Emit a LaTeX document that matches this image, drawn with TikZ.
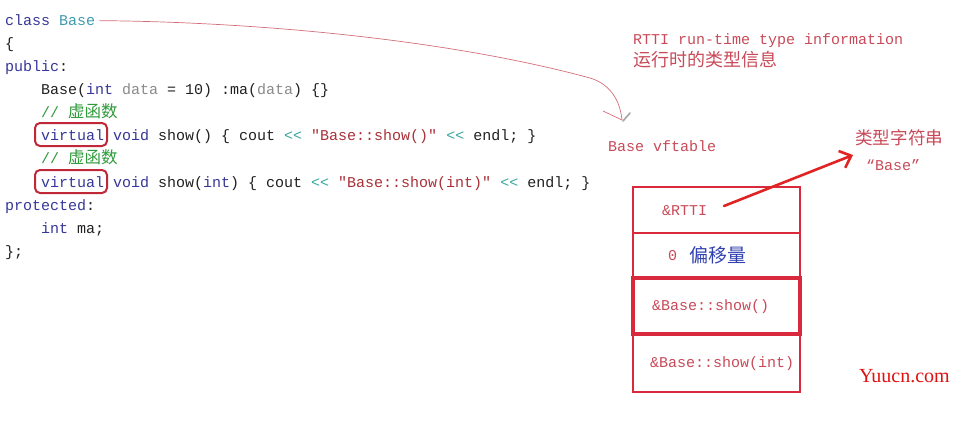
\documentclass[tikz,border=0pt]{standalone}
\usepackage{fontspec}
\setmainfont{Liberation Serif}
\setmonofont{Liberation Mono}
\newfontfamily\cjk{Noto Sans CJK SC}
\usetikzlibrary{arrows.meta}
\definecolor{kw}{HTML}{36369A}
\definecolor{cls}{HTML}{3E9AAE}
\definecolor{prm}{HTML}{8A8A8A}
\definecolor{cmt}{HTML}{2E9A3A}
\definecolor{str}{HTML}{A83038}
\definecolor{op}{HTML}{3AA6A0}
\definecolor{codetext}{HTML}{202020}
\definecolor{annot}{HTML}{C84A58}
\definecolor{boxred}{HTML}{C02838}
\definecolor{tabred}{HTML}{D82A3C}
\definecolor{arrred}{HTML}{E02424}
\definecolor{zhblue}{HTML}{3040B0}
\definecolor{wm}{HTML}{E01010}
\newcommand{\cz}[1]{{\cjk\fontsize{16.5}{16.5}\selectfont #1}}
\begin{document}
\begin{tikzpicture}[x=1pt,y=-1pt,
  code/.style={anchor=base west, inner sep=0pt, font=\ttfamily\fontsize{15}{15}\selectfont, text=codetext},
  note/.style={anchor=base west, inner sep=0pt, font=\ttfamily\fontsize{15}{15}\selectfont, text=annot},
  vbox/.style={draw=boxred, line width=2pt, rounded corners=5pt, minimum width=72pt, minimum height=23pt, inner sep=0pt},
  row/.style={draw=tabred, line width=2.6pt, minimum width=167pt, inner sep=0pt},
  thinlink/.style={draw=annot!80, line width=0.7pt}]
\useasboundingbox (0,0) rectangle (970,431);

% code
\node[code] (l1) at (5,25) {{\color{kw}class} {\color{cls}Base}};
\node[code] (l2) at (5,48) {\{};
\node[code] (l3) at (5,71) {{\color{kw}public}:};
\node[code] (l4) at (41,94) {Base({\color{kw}int} {\color{prm}data} = 10) :ma({\color{prm}data}) \{\}};
\node[code] (l5) at (41,117) {{\color{cmt}// \cz{虚函数}}};
\node[code] (l6) at (41,140) {{\color{kw}virtual} {\color{kw}void} show() \{ cout {\color{op}<{}<} {\color{str}"Base::show()"} {\color{op}<{}<} endl; \}};
\node[code] (l7) at (41,163) {{\color{cmt}// \cz{虚函数}}};
\node[code] (l8) at (41,187) {{\color{kw}virtual} {\color{kw}void} show({\color{kw}int}) \{ cout {\color{op}<{}<} {\color{str}"Base::show(int)"} {\color{op}<{}<} endl; \}};
\node[code] (l9) at (5,210) {{\color{kw}protected}:};
\node[code] (l10) at (41,233) {{\color{kw}int} ma;};
\node[code] (l11) at (5,256) {\};};

% boxes around virtual
\node[vbox] (v1) at (71,134.5) {};
\node[vbox] (v2) at (71,181.5) {};

% annotations
\node[note] (rtti) at (633,44) {RTTI run-time type information};
\node[note, font=\cjk\fontsize{18}{18}\selectfont] (rttizh) at (633,66) {运行时的类型信息};
\node[note] (vft) at (608,151) {Base vftable};
\node[note, font=\cjk\fontsize{17.6}{17.6}\selectfont] (lx) at (855,144) {类型字符串};
\node[note] (lxb) at (866,170) {“Base”};

% link from class Base to vftable
\coordinate (vfend) at (622,120);
\draw[thinlink] (l1.east) ++(4,1) .. controls (260,22) and (450,40) .. (590,78)
   .. controls (610,84) and (620,100) .. (vfend);
\draw[thinlink] (vfend) -- ++(-19,-9);
\draw[gray!70, line width=1.6pt, line cap=round] (623,121) -- (630,113);

% vftable
\node[row, minimum height=46pt] (r1) at (716.5,210) {};
\node[row, minimum height=45pt] (r2) at (716.5,255.5) {};
\node[row, minimum height=56pt, line width=3.2pt] (r3) at (716.5,306) {};
\node[row, minimum height=58pt] (r4) at (716.5,363) {};

\node[note] (t1) at (662,215) {\&RTTI};
\node[note] (t2) at (668,260) {0};
\node[anchor=base west, inner sep=0pt, font=\cjk\fontsize{19}{19}\selectfont, text=zhblue] (t2b) at (689,262) {偏移量};
\node[note] (t3) at (652,310) {\&Base::show()};
\node[note] (t4) at (650,367) {\&Base::show(int)};

% red arrow
\coordinate (rttitail) at (724,206);
\coordinate (lxtip) at (853,155);
\draw[arrred, line width=2.6pt, line cap=round, -{Straight Barb[length=10pt,width=18pt,line width=2.6pt]}] (rttitail) -- (lxtip);

% watermark
\node[anchor=base west, inner sep=0pt, font=\fontsize{20}{20}\selectfont, text=wm] (wmk) at (859,382) {Yuucn.com};
\end{tikzpicture}
\end{document}
